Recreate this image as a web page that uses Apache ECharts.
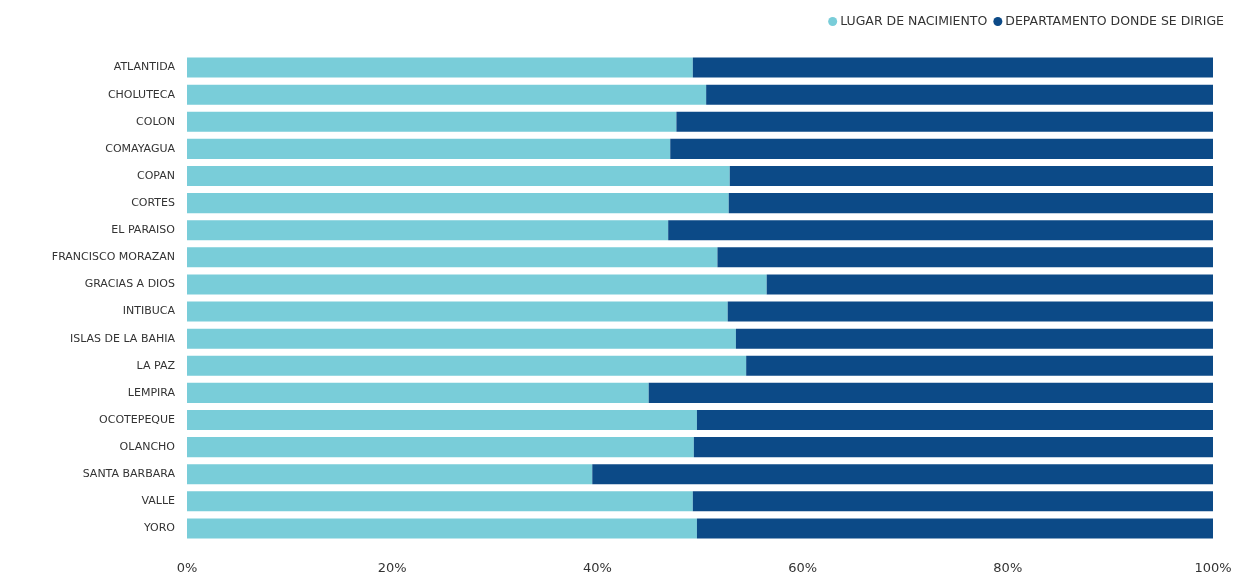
<!DOCTYPE html>
<html>
<head>
<meta charset="utf-8">
<script src="https://cdn.jsdelivr.net/npm/echarts@6/dist/echarts.min.js"></script>
<style>
  html, body { margin: 0; padding: 0; background: #fff; }
  #chart { width: 1243px; height: 576px; }
</style>
</head>
<body>
<div id="chart"></div>
<script>
// departamentos, de arriba hacia abajo
const departamentos = [
  'ATLANTIDA', 'CHOLUTECA', 'COLON', 'COMAYAGUA', 'COPAN', 'CORTES',
  'EL PARAISO', 'FRANCISCO MORAZAN', 'GRACIAS A DIOS', 'INTIBUCA',
  'ISLAS DE LA BAHIA', 'LA PAZ', 'LEMPIRA', 'OCOTEPEQUE', 'OLANCHO',
  'SANTA BARBARA', 'VALLE', 'YORO'
];
// porcentaje lugar de nacimiento
const lugarNacimiento = [
  49.3, 50.6, 47.7, 47.1, 52.9, 52.8, 46.9, 51.7, 56.5,
  52.7, 53.5, 54.5, 45.0, 49.7, 49.4, 39.5, 49.3, 49.7
];
// porcentaje departamento donde se dirige
const departamentoDestino = [
  50.7, 49.4, 52.3, 52.9, 47.1, 47.2, 53.1, 48.3, 43.5,
  47.3, 46.5, 45.5, 55.0, 50.3, 50.6, 60.5, 50.7, 50.3
];
const ticksX = [0, 20, 40, 60, 80, 100];

const chart = echarts.init(document.getElementById('chart'), null, { renderer: 'canvas' });

const option = {
  animation: false,
  legend: {
    right: 14,
    top: 10,
    icon: 'circle',
    itemWidth: 9,
    itemHeight: 9,
    itemGap: 6,
    textStyle: { fontFamily: 'DejaVu Sans', fontSize: 12.5, color: '#333', padding: [0, 0, 0, -2] }
  },
  grid: {
    left: 187,
    right: 30,
    top: 54,
    bottom: 34,
    containLabel: false
  },
  xAxis: {
    type: 'value',
    min: ticksX[0],
    max: ticksX[ticksX.length - 1],
    interval: 20,
    axisLine: { show: false },
    axisTick: { show: false },
    splitLine: { show: false },
    axisLabel: {
      formatter: '{value}%',
      fontFamily: 'DejaVu Sans',
      fontSize: 13,
      color: '#333',
      margin: 20
    }
  },
  yAxis: {
    type: 'category',
    inverse: true,
    data: departamentos,
    axisLine: { show: false },
    axisTick: { show: false },
    axisLabel: {
      fontFamily: 'DejaVu Sans',
      fontSize: 11,
      color: '#333',
      margin: 12
    }
  },
  series: [
    {
      name: 'LUGAR DE NACIMIENTO',
      type: 'bar',
      stack: 'total',
      barWidth: '74%',
      itemStyle: { color: '#79CDD9' },
      data: lugarNacimiento
    },
    {
      name: 'DEPARTAMENTO DONDE SE DIRIGE',
      type: 'bar',
      stack: 'total',
      barWidth: '74%',
      itemStyle: { color: '#0C4A87' },
      data: departamentoDestino
    }
  ]
};

chart.setOption(option);
</script>
</body>
</html>
